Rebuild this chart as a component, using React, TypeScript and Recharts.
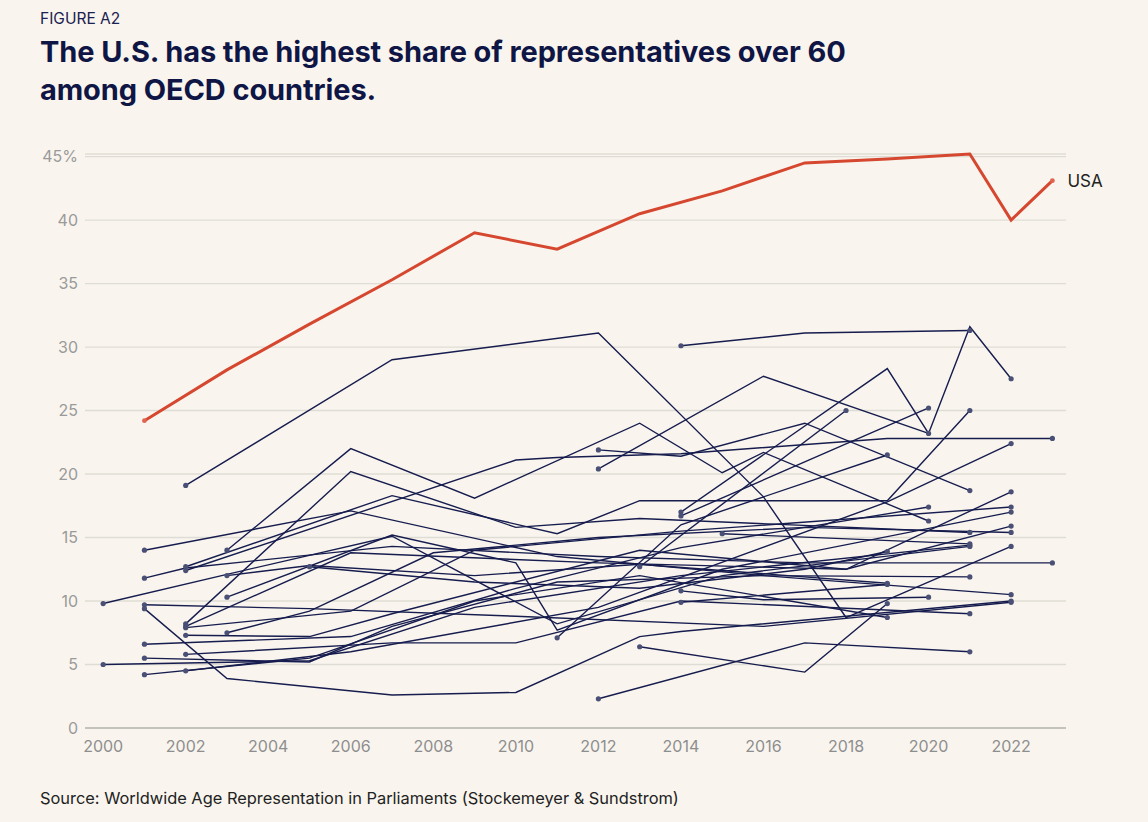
import React from 'react';
import { LineChart, Line, XAxis, YAxis, CartesianGrid } from 'recharts';

type Pt = [number, number];

const xTicks = [2000, 2002, 2004, 2006, 2008, 2010, 2012, 2014, 2016, 2018, 2020, 2022];
const yTicks = [0, 5, 10, 15, 20, 25, 30, 35, 40, 45];

const usa: Pt[] = [[2001, 24.2], [2003, 28.2], [2005, 31.8], [2007, 35.3], [2009, 39.0], [2011, 37.7], [2013, 40.5], [2015, 42.3], [2017, 44.5], [2019, 44.8], [2021, 45.2], [2022, 40.0], [2023, 43.1]];

const c01: Pt[] = [[2002, 19.1], [2007, 29.0], [2012, 31.1], [2016, 18.2], [2018, 8.7], [2022, 14.3]];
const c02: Pt[] = [[2014, 30.1], [2017, 31.1], [2021, 31.3]];
const c03: Pt[] = [[2014, 17.0], [2019, 28.3], [2020, 23.2], [2021, 31.6], [2022, 27.5]];
const c04: Pt[] = [[2012, 20.4], [2016, 27.7], [2020, 23.2]];
const c05: Pt[] = [[2013, 12.7], [2018, 25.0]];
const c06: Pt[] = [[2014, 16.7], [2020, 25.2]];
const c07: Pt[] = [[2003, 14.0], [2006, 22.0], [2009, 18.1], [2013, 24.0], [2015, 20.1], [2016, 21.7], [2020, 16.3]];
const c08: Pt[] = [[2012, 21.9], [2014, 21.4], [2017, 24.0], [2021, 18.7]];
const c09: Pt[] = [[2002, 8.2], [2006, 20.2], [2010, 15.8], [2013, 16.5], [2021, 15.4]];
const c10: Pt[] = [[2002, 12.7], [2007, 18.3], [2011, 15.3], [2013, 17.9], [2019, 17.9], [2021, 25.0]];
const c11: Pt[] = [[2001, 14.0], [2006, 17.1], [2011, 13.5], [2016, 12.0], [2021, 11.9]];
const c12: Pt[] = [[2001, 11.8], [2002, 12.6], [2007, 14.3], [2012, 13.5], [2017, 13.0], [2023, 13.0]];
const c13: Pt[] = [[2002, 12.4], [2010, 21.1], [2011, 21.3], [2014, 21.6], [2019, 22.8], [2023, 22.8]];
const c14: Pt[] = [[2000, 9.8], [2003, 12.1], [2007, 15.1], [2011, 8.2], [2015, 12.0], [2021, 14.3]];
const c15: Pt[] = [[2003, 12.0], [2005, 12.8], [2009, 12.0], [2013, 12.9], [2019, 11.4]];
const c16: Pt[] = [[2003, 10.3], [2007, 15.2], [2010, 13.0], [2011, 7.7], [2015, 12.5], [2022, 17.0]];
const c17: Pt[] = [[2003, 7.5], [2005, 9.2], [2008, 13.8], [2012, 15.0], [2017, 15.8], [2022, 15.4]];
const c18: Pt[] = [[2005, 12.7], [2009, 11.5], [2013, 11.0], [2017, 12.5], [2019, 13.9]];
const c19: Pt[] = [[2001, 9.4], [2003, 3.9], [2007, 2.6], [2010, 2.8], [2013, 7.2], [2014, 7.6], [2022, 10.0]];
const c20: Pt[] = [[2012, 2.3], [2017, 6.7], [2021, 6.0]];
const c21: Pt[] = [[2013, 6.4], [2017, 4.4], [2019, 9.8]];
const c22: Pt[] = [[2001, 9.7], [2005, 9.4], [2010, 8.8], [2016, 8.0], [2022, 9.9]];
const c23: Pt[] = [[2014, 10.8], [2016, 10.1], [2020, 10.3]];
const c24: Pt[] = [[2014, 9.9], [2019, 11.3]];
const c25: Pt[] = [[2015, 15.3], [2021, 14.5]];
const c26: Pt[] = [[2002, 8.0], [2006, 13.8], [2012, 13.0], [2018, 12.5], [2022, 15.9]];
const c27: Pt[] = [[2002, 7.9], [2006, 9.2], [2009, 14.0], [2014, 15.5], [2022, 17.4]];
const c28: Pt[] = [[2002, 7.3], [2005, 7.2], [2007, 9.0], [2013, 14.0], [2018, 12.5], [2022, 18.6]];
const c29: Pt[] = [[2001, 6.6], [2006, 7.2], [2010, 11.0], [2014, 14.2], [2020, 17.4]];
const c30: Pt[] = [[2001, 5.5], [2005, 5.2], [2007, 8.0], [2011, 11.5], [2016, 12.0], [2022, 10.5]];
const c31: Pt[] = [[2001, 4.2], [2005, 5.5], [2009, 10.0], [2013, 12.0], [2019, 8.7]];
const c32: Pt[] = [[2002, 5.8], [2007, 6.7], [2010, 6.7], [2014, 10.0], [2021, 9.0]];
const c33: Pt[] = [[2002, 4.5], [2006, 6.0], [2012, 9.5], [2019, 17.8], [2022, 22.4]];
const c34: Pt[] = [[2011, 7.1], [2014, 16.0], [2019, 21.5]];
const c35: Pt[] = [[2000, 5.0], [2005, 5.3], [2009, 9.5], [2014, 12.0], [2021, 14.4]];

const countries: Pt[][] = [c01, c02, c03, c04, c05, c06, c07, c08, c09, c10, c11, c12, c13, c14, c15, c16, c17, c18, c19, c20, c21, c22, c23, c24, c25, c26, c27, c28, c29, c30, c31, c32, c33, c34, c35];

const NAVY = '#161c4e';
const RED = '#d6472f';
const BG = '#f9f5ee';
const FONT = "Inter, 'Noto Sans', sans-serif";

const toRows = (pts: Pt[]) => pts.map(([year, v]) => ({ year, v }));

const endDot = (len: number, fill: string, r: number) => (p: any) => {
  const { cx, cy, index } = p;
  if (index !== 0 && index !== len - 1) return <g key={`d${index}`} />;
  return <circle key={`d${index}`} cx={cx} cy={cy} r={r} fill={fill} stroke="none" />;
};

const usaLabel = (p: any) => {
  const { x, y, index } = p;
  if (index !== usa.length - 1) return <g key={`l${index}`} />;
  return (
    <text key={`l${index}`} x={x + 15} y={y + 6} fontSize={17} fill="#222" fontFamily={FONT}>
      USA
    </text>
  );
};

export default function App() {
  return (
    <div style={{ position: 'relative', width: 1148, height: 822, background: BG, fontFamily: FONT, overflow: 'hidden' }}>
      <style>{`body{margin:0;background:${BG};}`}</style>
      <div style={{ position: 'absolute', left: 40, top: 9, fontSize: 15.5, color: '#1b2150' }}>FIGURE A2</div>
      <div style={{ position: 'absolute', left: 40, top: 33, fontSize: 29, lineHeight: '38px', fontWeight: 700, color: '#0f1545', letterSpacing: -0.1 }}>
        The U.S. has the highest share of representatives over 60
        <br />
        among OECD countries.
      </div>
      <div style={{ position: 'absolute', left: 40, top: 788, fontSize: 16.4, color: '#222' }}>
        Source: Worldwide Age Representation in Parliaments (Stockemeyer &amp; Sundstrom)
      </div>
      <div style={{ position: 'absolute', left: 0, top: 0 }}>
        <LineChart width={1148} height={822} margin={{ top: 154, right: 82, bottom: 64, left: 40 }}>
          <CartesianGrid horizontal vertical={false} stroke="#dfdcd5" strokeWidth={1.3} />
          <XAxis
            type="number"
            dataKey="year"
            domain={[1999.56, 2023.33]}
            ticks={xTicks}
            allowDataOverflow
            tickLine={false}
            tickSize={0}
            tickMargin={13}
            axisLine={{ stroke: '#b9b7b2', strokeWidth: 1.5 }}
            tick={{ fill: '#8e8e8e', fontSize: 16, fontFamily: FONT }}
          />
          <YAxis
            type="number"
            domain={[0, 45]}
            ticks={yTicks}
            width={45}
            tickLine={false}
            tickSize={0}
            tickMargin={7}
            axisLine={false}
            tickFormatter={(v: number) => (v === 45 ? '45%' : String(v))}
            tick={{ fill: '#9a9a9a', fontSize: 16, fontFamily: FONT }}
          />
          {countries.map((pts, i) => (
            <Line
              key={`c${i}`}
              data={toRows(pts)}
              dataKey="v"
              type="linear"
              stroke={NAVY}
              strokeWidth={1.4}
              dot={endDot(pts.length, '#4a5075', 2.6)}
              activeDot={false}
              isAnimationActive={false}
            />
          ))}
          <Line
            data={toRows(usa)}
            dataKey="v"
            type="linear"
            stroke={RED}
            strokeWidth={3}
            dot={endDot(usa.length, '#e0644f', 2.4)}
            activeDot={false}
            label={usaLabel}
            isAnimationActive={false}
          />
        </LineChart>
      </div>
    </div>
  );
}
